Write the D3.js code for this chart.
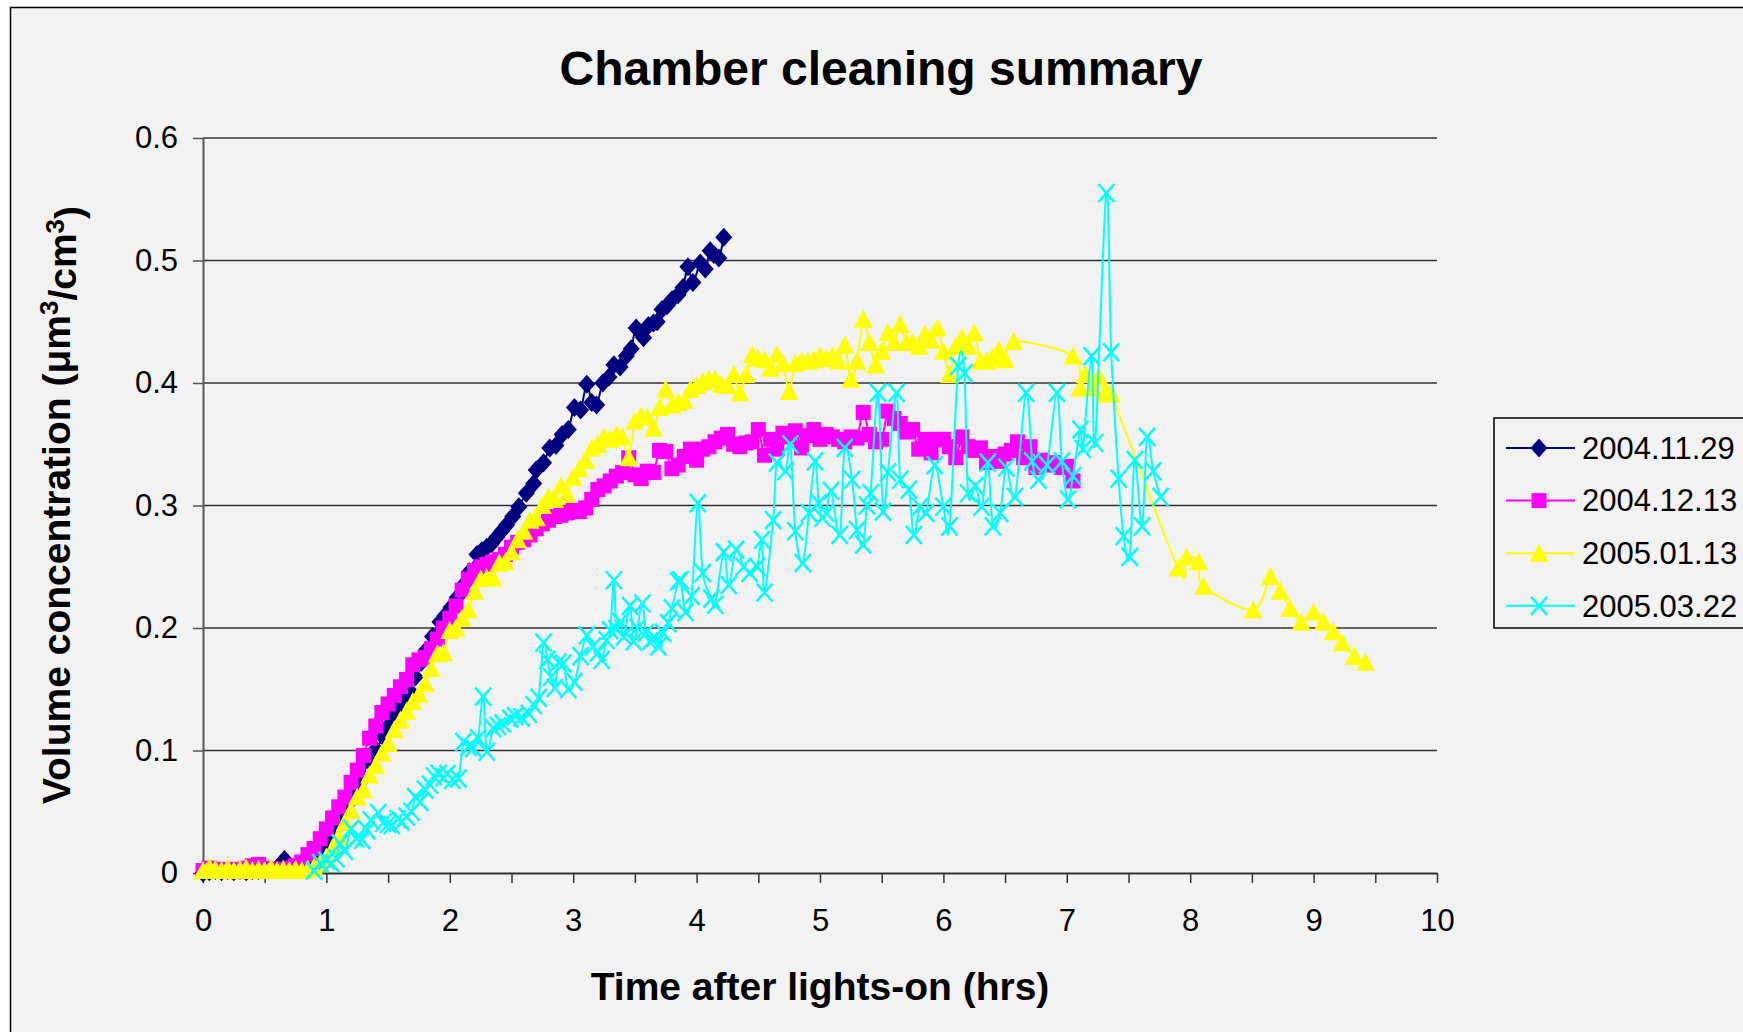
<!DOCTYPE html>
<html>
<head>
<meta charset="utf-8">
<script src="https://cdn.jsdelivr.net/npm/d3@7"></script>
<style>
  html, body { margin: 0; padding: 0; background: #ffffff; }
  svg { display: block; font-family: "Liberation Sans", Arial, sans-serif; }
</style>
</head>
<body>
<svg id="chart" width="1743" height="1032"></svg>
<script>
// ---- data -------------------------------------------------------------
const seriesNames = ["2004.11.29", "2004.12.13", "2005.01.13", "2005.03.22"];
const seriesColors = ["#000080", "#ff00ff", "#ffff00", "#00ffff"];
const seriesShapes = ["diamond", "square", "triangle", "cross"];

const xTickValues = [0, 0.5, 1, 1.5, 2, 2.5, 3, 3.5, 4, 4.5, 5, 5.5, 6, 6.5, 7, 7.5, 8, 8.5, 9, 9.5, 10];
const yTickValues = [0, 0.1, 0.2, 0.3, 0.4, 0.5, 0.6];

// 2004.11.29
const hours1129 = [0.00,0.05,0.10,0.15,0.20,0.25,0.30,0.35,0.40,0.45,0.50,0.55,0.60,0.66,0.70,0.75,0.80,0.85,0.90,0.95,
  1.00,1.05,1.10,1.15,1.20,1.25,1.29,1.34,1.40,1.46,1.50,1.54,1.59,1.63,1.68,1.72,1.77,1.81,1.86,1.92,1.96,
  2.01,2.06,2.11,2.16,2.22,2.26,2.30,2.34,2.38,2.42,2.46,2.51,2.56,2.62,2.68,2.70,2.76,2.81,2.86,2.91,2.96,
  3.01,3.06,3.11,3.15,3.19,3.24,3.29,3.33,3.38,3.43,3.47,3.51,3.57,3.61,3.65,3.68,3.72,3.76,3.80,3.85,3.89,3.93,3.97,
  4.03,4.07,4.11,4.14,4.18,4.22];
const volume1129 = [0.000,0.001,0.002,0.001,0.002,0.001,0.002,0.001,0.002,0.002,0.003,0.003,0.004,0.011,0.005,0.006,0.008,0.010,0.013,0.018,
  0.025,0.033,0.042,0.051,0.059,0.068,0.076,0.092,0.101,0.111,0.120,0.130,0.137,0.143,0.148,0.160,0.172,0.182,0.193,0.205,0.210,
  0.217,0.225,0.235,0.246,0.260,0.263,0.266,0.269,0.274,0.279,0.284,0.291,0.299,0.310,0.318,0.329,0.335,0.347,0.349,0.358,0.362,
  0.380,0.378,0.399,0.384,0.382,0.400,0.405,0.415,0.413,0.422,0.428,0.445,0.437,0.447,0.449,0.450,0.460,0.463,0.468,0.472,0.478,0.495,0.482,
  0.498,0.493,0.508,0.505,0.502,0.519];

// 2004.12.13
const hours1213 = [0.00,0.05,0.10,0.15,0.20,0.25,0.30,0.35,0.40,0.45,0.50,0.55,0.60,0.65,0.70,0.75,0.80,0.85,0.90,0.95,
  1.00,1.05,1.10,1.15,1.20,1.25,1.30,1.35,1.40,1.45,1.50,1.55,1.60,1.65,1.70,1.75,1.80,1.85,1.90,1.95,
  2.00,2.05,2.10,2.15,2.20,2.25,2.30,2.35,2.40,2.45,2.50,2.55,2.60,2.65,2.70,2.75,2.80,2.85,2.90,2.95,
  3.00,3.05,3.10,3.15,3.20,3.25,3.30,3.35,3.40,3.45,3.50,3.55,3.60,3.65,3.70,3.75,3.80,3.85,3.90,3.95,
  4.00,4.05,4.10,4.15,4.20,4.25,4.30,4.35,4.40,4.45,4.50,4.55,4.60,4.65,4.70,4.75,4.80,4.85,4.90,4.95,
  5.00,5.05,5.10,5.15,5.20,5.25,5.30,5.35,5.40,5.45,5.50,5.55,5.60,5.65,5.70,5.75,5.80,5.85,5.90,5.95,
  6.00,6.05,6.10,6.15,6.20,6.25,6.30,6.35,6.40,6.45,6.50,6.55,6.60,6.65,6.70,6.75,6.80,6.85,6.90,6.95,7.00,7.05];
const volume1213 = [0.002,0.004,0.003,0.002,0.003,0.002,0.003,0.004,0.006,0.007,0.004,0.003,0.003,0.003,0.004,0.006,0.009,0.015,0.020,0.028,
  0.036,0.045,0.054,0.062,0.074,0.084,0.096,0.110,0.120,0.131,0.138,0.145,0.152,0.158,0.170,0.174,0.176,0.183,0.191,0.200,
  0.208,0.218,0.231,0.240,0.247,0.250,0.252,0.254,0.256,0.260,0.266,0.270,0.272,0.276,0.281,0.285,0.288,0.291,0.292,0.294,
  0.296,0.295,0.298,0.305,0.313,0.316,0.320,0.324,0.327,0.339,0.325,0.322,0.328,0.327,0.345,0.344,0.330,0.333,0.340,0.346,
  0.337,0.346,0.348,0.352,0.355,0.358,0.350,0.348,0.351,0.352,0.362,0.341,0.354,0.346,0.359,0.356,0.361,0.347,0.357,0.362,
  0.354,0.358,0.356,0.354,0.352,0.356,0.355,0.376,0.358,0.352,0.354,0.377,0.371,0.367,0.360,0.362,0.346,0.354,0.343,0.354,
  0.354,0.348,0.339,0.356,0.348,0.345,0.347,0.335,0.340,0.336,0.342,0.345,0.352,0.339,0.348,0.331,0.337,0.333,0.335,0.331,0.332,0.320];

// 2005.01.13
const hours0113 = [0.00,0.05,0.10,0.15,0.20,0.25,0.30,0.35,0.40,0.45,0.50,0.55,0.60,0.65,0.70,0.75,0.80,0.85,0.90,0.95,
  1.00,1.05,1.10,1.15,1.20,1.25,1.30,1.35,1.40,1.45,1.50,1.55,1.60,1.65,1.70,1.75,1.80,1.85,1.90,1.95,
  2.00,2.05,2.10,2.15,2.20,2.25,2.30,2.35,2.40,2.45,2.50,2.55,2.60,2.65,2.70,2.75,2.80,2.85,2.90,2.95,
  3.00,3.05,3.10,3.15,3.20,3.25,3.30,3.35,3.40,3.45,3.50,3.55,3.60,3.65,3.70,3.75,3.80,3.85,3.90,3.95,
  4.00,4.05,4.10,4.15,4.20,4.25,4.30,4.35,4.40,4.45,4.50,4.55,4.60,4.65,4.70,4.75,4.80,4.85,4.90,4.95,
  5.00,5.05,5.10,5.15,5.20,5.25,5.30,5.35,5.40,5.45,5.50,5.55,5.60,5.65,5.70,5.75,5.80,5.85,5.90,5.95,
  6.00,6.05,6.10,6.15,6.20,6.25,6.30,6.35,6.40,6.45,6.50,6.57,
  7.05,7.11,7.15,7.21,7.26,7.31,7.36,7.90,7.97,8.07,8.11,8.51,8.65,8.73,8.81,8.90,9.00,9.08,9.16,9.23,9.33,9.42];
const volume0113 = [0.002,0.005,0.003,0.002,0.004,0.002,0.003,0.004,0.002,0.003,0.002,0.004,0.002,0.003,0.002,0.003,0.002,0.003,0.005,0.008,
  0.013,0.020,0.030,0.041,0.051,0.062,0.068,0.080,0.088,0.098,0.106,0.117,0.125,0.132,0.140,0.146,0.155,0.167,0.179,0.180,
  0.198,0.200,0.208,0.215,0.230,0.240,0.241,0.241,0.253,0.254,0.262,0.272,0.279,0.288,0.290,0.300,0.307,0.305,0.316,0.309,
  0.323,0.330,0.337,0.347,0.350,0.356,0.354,0.358,0.356,0.339,0.369,0.373,0.372,0.363,0.380,0.395,0.382,0.384,0.386,0.395,
  0.398,0.401,0.403,0.403,0.399,0.398,0.407,0.392,0.407,0.423,0.420,0.419,0.412,0.423,0.416,0.393,0.416,0.418,0.418,0.419,
  0.422,0.420,0.422,0.418,0.431,0.403,0.418,0.452,0.433,0.415,0.426,0.441,0.433,0.448,0.433,0.433,0.430,0.440,0.435,0.445,
  0.426,0.407,0.430,0.437,0.430,0.441,0.418,0.418,0.421,0.427,0.419,0.434,
  0.422,0.396,0.407,0.396,0.405,0.391,0.391,0.249,0.258,0.254,0.234,0.215,0.242,0.230,0.216,0.205,0.213,0.205,0.197,0.188,0.177,0.172];

// 2005.03.22
const hours0322 = [0.90,0.95,1.00,1.04,1.08,1.11,1.15,1.20,1.24,1.29,1.33,1.36,1.42,1.46,1.50,1.53,1.58,1.61,1.65,1.69,
  1.72,1.76,1.80,1.84,1.87,1.91,1.95,1.98,2.02,2.07,2.11,2.15,2.19,2.23,2.27,2.30,2.35,2.39,2.43,2.49,
  2.53,2.58,2.64,2.68,2.72,2.76,2.79,2.82,2.85,2.88,2.92,2.96,3.01,3.06,3.11,3.16,3.20,3.23,3.27,3.30,
  3.33,3.35,3.38,3.41,3.46,3.49,3.52,3.56,3.59,3.62,3.66,3.69,3.73,3.77,3.80,3.85,3.87,3.91,3.96,4.01,
  4.05,4.12,4.15,4.22,4.26,4.32,4.38,4.43,4.49,4.53,4.55,4.62,4.65,4.72,4.76,4.80,4.86,4.91,4.96,4.99,
  5.02,5.05,5.09,5.16,5.20,5.26,5.30,5.35,5.38,5.41,5.47,5.51,5.55,5.62,5.65,5.72,5.76,5.81,5.86,5.93,
  6.00,6.05,6.12,6.17,6.20,6.26,6.31,6.36,6.40,6.46,6.51,6.58,6.67,6.72,6.77,6.84,6.92,6.96,7.01,7.05,
  7.11,7.13,7.20,7.23,7.32,7.36,7.42,7.46,7.51,7.55,7.61,7.65,7.70,7.76];
const volume0322 = [0.002,0.008,0.010,0.008,0.012,0.024,0.018,0.036,0.028,0.027,0.035,0.043,0.049,0.041,0.040,0.039,0.044,0.042,0.046,0.050,
  0.062,0.058,0.068,0.072,0.079,0.081,0.078,0.081,0.076,0.077,0.107,0.103,0.102,0.110,0.144,0.099,0.118,0.120,0.122,0.126,
  0.128,0.127,0.130,0.137,0.143,0.188,0.174,0.160,0.151,0.172,0.171,0.150,0.156,0.177,0.194,0.185,0.180,0.174,0.190,0.198,
  0.239,0.199,0.205,0.193,0.218,0.189,0.200,0.220,0.196,0.189,0.192,0.185,0.196,0.204,0.216,0.238,0.239,0.213,0.226,0.302,
  0.245,0.224,0.219,0.262,0.235,0.264,0.250,0.245,0.250,0.272,0.229,0.288,0.335,0.328,0.350,0.279,0.253,0.294,0.336,0.302,
  0.290,0.294,0.312,0.276,0.347,0.321,0.280,0.268,0.300,0.310,0.392,0.295,0.327,0.392,0.321,0.313,0.276,0.299,0.294,0.333,
  0.299,0.283,0.414,0.408,0.310,0.316,0.299,0.335,0.283,0.294,0.331,0.307,0.392,0.336,0.321,0.333,0.392,0.336,0.305,0.324,
  0.362,0.346,0.422,0.351,0.555,0.425,0.322,0.275,0.258,0.337,0.283,0.356,0.328,0.307];

const seriesHours = [hours1129, hours1213, hours0113, hours0322];
const seriesVolume = [volume1129, volume1213, volume0113, volume0322];

// ---- layout -------------------------------------------------------------
const svg = d3.select("#chart");
const x = d3.scaleLinear().domain([0, 10]).range([203, 1437]);
const y = d3.scaleLinear().domain([0, 0.6]).range([873, 138]);

// chart area with its frame (extends past the right and bottom edges)
svg.append("rect")
  .attr("x", 10.5).attr("y", 7.5)
  .attr("width", 1800).attr("height", 1100)
  .attr("fill", "#f2f2f2").attr("stroke", "#000").attr("stroke-width", 1.5);

// title
svg.append("text")
  .attr("x", 881).attr("y", 85)
  .attr("text-anchor", "middle")
  .attr("font-size", 48).attr("font-weight", "bold")
  .text("Chamber cleaning summary");

// horizontal gridlines
svg.append("g")
  .selectAll("line")
  .data(yTickValues.filter(d => d > 0))
  .join("line")
  .attr("x1", x(0)).attr("x2", x(10))
  .attr("y1", d => y(d)).attr("y2", d => y(d))
  .attr("stroke", "#333").attr("stroke-width", 1.5);

// y axis
const yAxisG = svg.append("g")
  .attr("transform", `translate(${x(0)},0)`)
  .call(d3.axisLeft(y)
    .tickValues(yTickValues)
    .tickSize(10).tickSizeOuter(0).tickPadding(15)
    .tickFormat(d => d === 0 ? "0" : d3.format(".1f")(d)));
yAxisG.select(".domain").attr("stroke", "#555").attr("stroke-width", 2);
yAxisG.selectAll(".tick line").attr("stroke", "#555").attr("stroke-width", 1.5);
yAxisG.selectAll(".tick text")
  .attr("font-size", 31).attr("fill", "#000")
  .attr("font-family", "'Liberation Sans', Arial, sans-serif");

// x axis: ticks every half hour, labels on whole hours
const xAxisG = svg.append("g")
  .attr("transform", `translate(0,${y(0)})`)
  .call(d3.axisBottom(x)
    .tickValues(xTickValues)
    .tickSize(10).tickSizeOuter(0).tickPadding(26)
    .tickFormat(d => Number.isInteger(d) ? String(d) : ""));
xAxisG.select(".domain").attr("stroke", "#333").attr("stroke-width", 2);
xAxisG.selectAll(".tick line").attr("stroke", "#333").attr("stroke-width", 1.5);
xAxisG.selectAll(".tick text")
  .attr("font-size", 31).attr("fill", "#000")
  .attr("font-family", "'Liberation Sans', Arial, sans-serif");

// axis titles
svg.append("text")
  .attr("x", 820).attr("y", 1000)
  .attr("text-anchor", "middle")
  .attr("font-size", 39).attr("font-weight", "bold")
  .text("Time after lights-on (hrs)");

const yTitle = svg.append("text")
  .attr("transform", "translate(70,505) rotate(-90)")
  .attr("text-anchor", "middle")
  .attr("font-size", 39).attr("font-weight", "bold");
yTitle.append("tspan").text("Volume concentration (\u03bcm");
yTitle.append("tspan").attr("dy", "-0.45em").attr("font-size", 26).text("3");
yTitle.append("tspan").attr("dy", "0.45em").text("/cm");
yTitle.append("tspan").attr("dy", "-0.45em").attr("font-size", 26).text("3");
yTitle.append("tspan").attr("dy", "0.45em").text(")");

// ---- markers -------------------------------------------------------------
function drawMarker(sel, shape, color) {
  if (shape === "diamond") {
    sel.append("path").attr("d", "M0,-9.5L8.5,0L0,9.5L-8.5,0Z").attr("fill", color);
  } else if (shape === "square") {
    sel.append("rect").attr("x", -7.5).attr("y", -7.5).attr("width", 15).attr("height", 15).attr("fill", color);
  } else if (shape === "triangle") {
    sel.append("path").attr("d", "M0,-9.5L9.5,8.5L-9.5,8.5Z").attr("fill", color);
  } else {
    sel.append("path").attr("d", "M-8,-9L8,9M8,-9L-8,9")
      .attr("stroke", color).attr("stroke-width", 2.5).attr("fill", "none");
  }
}

const smooth = d3.line()
  .x(d => x(d[0]))
  .y(d => y(d[1]))
  .curve(d3.curveCardinal.tension(0));

seriesNames.forEach((name, i) => {
  const pts = seriesHours[i].map((h, k) => [h, seriesVolume[i][k]]);
  const g = svg.append("g").attr("class", "series");
  g.append("path")
    .datum(pts)
    .attr("d", smooth)
    .attr("fill", "none")
    .attr("stroke", seriesColors[i])
    .attr("stroke-width", 2);
  g.selectAll("g.pt")
    .data(pts)
    .join("g")
    .attr("class", "pt")
    .attr("transform", d => `translate(${x(d[0])},${y(d[1])})`)
    .each(function () { drawMarker(d3.select(this), seriesShapes[i], seriesColors[i]); });
});

// ---- legend -------------------------------------------------------------
const legend = svg.append("g");
legend.append("rect")
  .attr("x", 1494).attr("y", 418).attr("width", 300).attr("height", 210)
  .attr("fill", "#f2f2f2").attr("stroke", "#000").attr("stroke-width", 1.5);
seriesNames.forEach((name, i) => {
  const ry = 448 + i * 52.6;
  const row = legend.append("g").attr("transform", `translate(0,${ry})`);
  row.append("line").attr("x1", 1506).attr("x2", 1575).attr("y1", 0).attr("y2", 0)
    .attr("stroke", seriesColors[i]).attr("stroke-width", 2);
  drawMarker(row.append("g").attr("transform", "translate(1539,0)"), seriesShapes[i], seriesColors[i]);
  row.append("text")
    .attr("x", 1582).attr("y", 0).attr("dy", "0.35em")
    .attr("font-size", 31).attr("fill", "#000")
    .text(name);
});
</script>
</body>
</html>
